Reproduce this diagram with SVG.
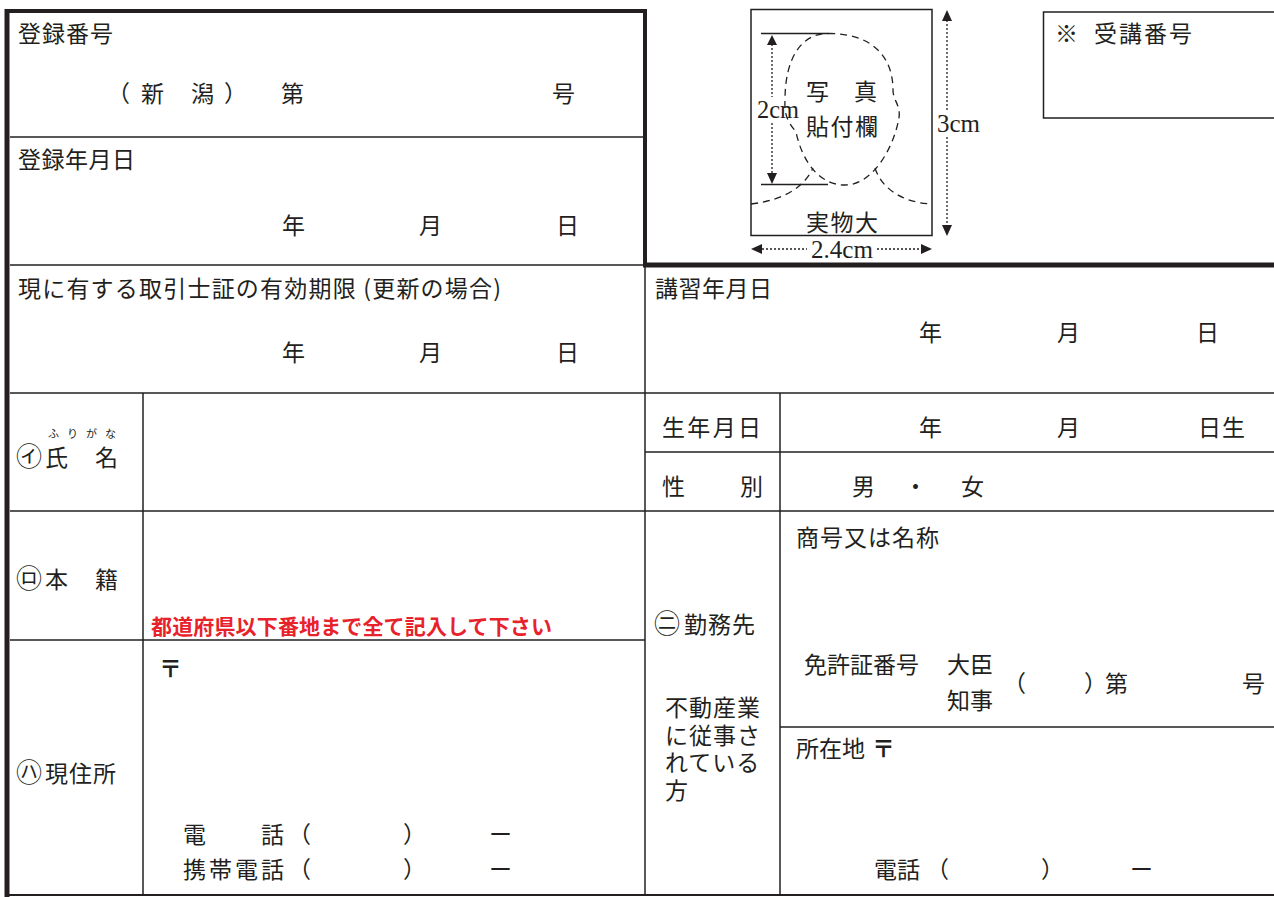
<svg xmlns="http://www.w3.org/2000/svg" width="1274" height="897" viewBox="0 0 1274 897">
<style>
.t{font-family:"Noto Sans CJK JP","Noto Sans",sans-serif;font-size:23px;fill:#231f20}
.c{font-family:"Noto Sans CJK JP","Noto Sans",sans-serif;font-size:26px;fill:#231f20}
.s{font-family:"Liberation Serif","DejaVu Serif",serif;font-size:25px;fill:#231f20}
.red{font-family:"Noto Sans CJK JP",sans-serif;font-size:21px;font-weight:bold;fill:#e8222a}
.thin{stroke:#231f20;stroke-width:1.5;fill:none}
.thick{stroke:#231f20;fill:none}
.dash{stroke:#231f20;stroke-width:1.3;fill:none;stroke-dasharray:7 5}
.dot{stroke:#231f20;stroke-width:1.3;fill:none;stroke-dasharray:2 2}
.ah{fill:#231f20}
</style>
<rect width="1274" height="897" fill="#fff"/>
<g id="connectors">
<line class="thin" x1="10" y1="137" x2="643" y2="137"/>
<line class="thin" x1="10" y1="265" x2="643" y2="265"/>
<line class="thin" x1="10" y1="393" x2="1274" y2="393"/>
<line class="thin" x1="645" y1="452" x2="1274" y2="452"/>
<line class="thin" x1="10" y1="511" x2="1274" y2="511"/>
<line class="thin" x1="10" y1="640" x2="645" y2="640"/>
<line class="thin" x1="780" y1="727" x2="1274" y2="727"/>
<line class="thin" x1="143" y1="393" x2="143" y2="895"/>
<line class="thin" x1="645" y1="265" x2="645" y2="895"/>
<line class="thin" x1="780" y1="393" x2="780" y2="895"/>
<line class="thick" stroke-width="2" x1="5" y1="895" x2="1274" y2="895"/>
<line class="thick" stroke-width="4" x1="5" y1="11" x2="647" y2="11"/>
<line class="thick" stroke-width="5" x1="7" y1="9" x2="7" y2="897"/>
<line class="thick" stroke-width="4" x1="645" y1="9" x2="645" y2="267"/>
<line class="thick" stroke-width="5" x1="643" y1="265" x2="1274" y2="265"/>
</g>
<g id="reg-number">
<text class="t" x="18" y="42" textLength="95" lengthAdjust="spacing">登録番号</text>
<text class="t" x="107 141 191 224 281 552" y="102">（新潟）第号</text>
</g>
<g id="reg-date">
<text class="t" x="18" y="168" textLength="117" lengthAdjust="spacing">登録年月日</text>
<text class="t" x="282 419 556" y="234">年月日</text>
</g>
<g id="expiry">
<text class="t" x="18" y="297" textLength="483" lengthAdjust="spacing">現に有する取引士証の有効期限 (更新の場合)</text>
<text class="t" x="282 419 556" y="361">年月日</text>
</g>
<g id="course-date">
<text class="t" x="655" y="297" textLength="117" lengthAdjust="spacing">講習年月日</text>
<text class="t" x="919 1057 1196" y="341">年月日</text>
</g>
<g id="photo">
<rect class="thin" x="751" y="9.5" width="181" height="226"/>
<line class="thin" x1="761" y1="33.5" x2="828" y2="33.5"/>
<line class="thin" x1="761" y1="184.5" x2="828" y2="184.5"/>
<path class="dash" d="M828,33.5 C870,33 893,55 893,90 C893,100 901,106 899,118 C893,150 872,185 845,185 C818,185 802,160 796,132 C790,124 784,118 785,100 C785,60 800,33.5 828,33.5"/>
<path class="dash" d="M751,204 C785,200 805,186 813,168"/>
<path class="dash" d="M875,168 C882,190 905,203 932,204"/>
<line class="dot" x1="772" y1="44" x2="772" y2="97"/>
<line class="dot" x1="772" y1="123" x2="772" y2="173"/>
<polygon class="ah" points="772,35 767,45 777,45"/>
<polygon class="ah" points="772,184 767,173 777,173"/>
<text class="s" x="757" y="118" textLength="42" lengthAdjust="spacingAndGlyphs">2cm</text>
<line class="dot" x1="947" y1="20" x2="947" y2="112"/>
<line class="dot" x1="947" y1="137" x2="947" y2="226"/>
<polygon class="ah" points="947,10 942,21 952,21"/>
<polygon class="ah" points="947,236 942,225 952,225"/>
<text class="s" x="937" y="132" textLength="43" lengthAdjust="spacingAndGlyphs">3cm</text>
<line class="dot" x1="762" y1="249" x2="807" y2="249"/>
<line class="dot" x1="877" y1="249" x2="921" y2="249"/>
<polygon class="ah" points="751,249 762,244 762,254"/>
<polygon class="ah" points="932,249 921,244 921,254"/>
<text class="s" x="811" y="258" textLength="62" lengthAdjust="spacingAndGlyphs">2.4cm</text>
<text class="t" x="806 854" y="100">写真</text>
<text class="t" x="806" y="135" textLength="72" lengthAdjust="spacing">貼付欄</text>
<text class="t" x="806" y="231" textLength="72" lengthAdjust="spacing">実物大</text>
</g>
<g id="course-number">
<path class="thin" d="M1274,12 H1043.5 V118 H1274"/>
<text class="t" x="1055" y="42">※</text>
<text class="t" x="1094" y="42" textLength="98" lengthAdjust="spacing">受講番号</text>
</g>
<g id="name">
<text class="t" x="48" y="438" style="font-size:11px" textLength="68" lengthAdjust="spacing">ふりがな</text>
<text class="c" x="16" y="466">㋑</text>
<text class="t" x="45 95" y="466">氏名</text>
</g>
<g id="domicile">
<text class="c" x="16" y="588">㋺</text>
<text class="t" x="45 95" y="588">本籍</text>
<text class="red" x="151" y="634" textLength="401" lengthAdjust="spacing">都道府県以下番地まで全て記入して下さい</text>
</g>
<g id="address">
<text class="t" x="159" y="677" style="font-weight:bold">〒</text>
<text class="c" x="16" y="782">㋩</text>
<text class="t" x="45" y="782" textLength="71" lengthAdjust="spacing">現住所</text>
<text class="t" x="183 261 288 403 489" y="843">電話（）ー</text>
<text class="t" x="183" y="878" textLength="101" lengthAdjust="spacing">携帯電話</text>
<text class="t" x="288 403 489" y="878">（）ー</text>
</g>
<g id="birth">
<text class="t" x="662" y="436" textLength="99" lengthAdjust="spacing">生年月日</text>
<text class="t" x="919 1057" y="436">年月</text>
<text class="t" x="1198" y="436" textLength="47" lengthAdjust="spacing">日生</text>
</g>
<g id="sex">
<text class="t" x="662 740" y="495">性別</text>
<text class="t" x="852 904 961" y="495">男・女</text>
</g>
<g id="workplace">
<text class="c" x="654" y="633">㊁</text>
<text class="t" x="684" y="633" textLength="71" lengthAdjust="spacing">勤務先</text>
<text class="t" y="716" style="letter-spacing:1px"><tspan x="665" y="716">不動産業</tspan><tspan x="665" y="744">に従事さ</tspan><tspan x="665" y="771">れている</tspan><tspan x="665" y="799">方</tspan></text>
<text class="t" x="796" y="546" textLength="143" lengthAdjust="spacing">商号又は名称</text>
<text class="t" x="804" y="673" textLength="115" lengthAdjust="spacing">免許証番号</text>
<text class="t" x="947" y="673" textLength="46" lengthAdjust="spacing">大臣</text>
<text class="t" x="947" y="709" textLength="46" lengthAdjust="spacing">知事</text>
<text class="t" x="1003 1084 1105 1242" y="692">（）第号</text>
<text class="t" x="796" y="757" textLength="69" lengthAdjust="spacing">所在地</text>
<text class="t" x="872" y="757" style="font-weight:bold">〒</text>
<text class="t" x="874" y="878" textLength="46" lengthAdjust="spacing">電話</text>
<text class="t" x="926 1041 1130" y="878">（）ー</text>
</g>
</svg>
